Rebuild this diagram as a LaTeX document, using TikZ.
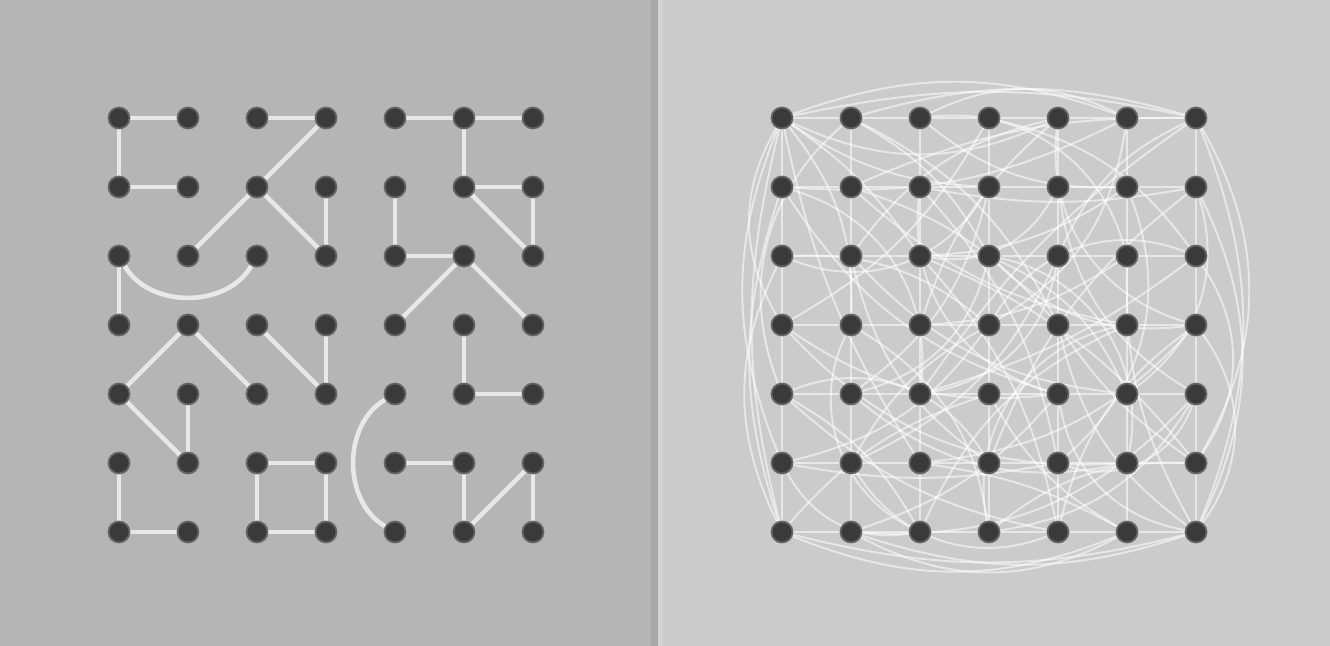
\documentclass[tikz,border=0pt]{standalone}
\usepackage{xcolor}
\usepackage{tikz}
\usetikzlibrary{positioning}
\definecolor{leftbg}{HTML}{B5B5B5}
\definecolor{rightbg}{HTML}{CBCBCB}
\definecolor{seamdark}{HTML}{A8A8A8}
\definecolor{seamlight}{HTML}{D3D3D3}
\definecolor{dotgrey}{HTML}{3A3A3A}
\definecolor{dotrim}{HTML}{646464}
\definecolor{linewhite}{HTML}{E8E8E8}
\pgfdeclarelayer{panel}
\pgfdeclarelayer{edges}
\pgfsetlayers{panel,edges,main}
\tikzstyle{vertex} = [circle, minimum size=0.42cm, inner sep=0pt, fill=dotgrey, draw=dotrim, line width=1pt]
\tikzstyle{link} = [draw=linewhite, line width=2.6pt]
\tikzstyle{strand} = [draw=white, line width=1.1pt, opacity=0.55]

\begin{document}
\begin{tikzpicture}[x=0.02cm, y=0.02cm]

\useasboundingbox (0,0) rectangle (1330,646);

% the two grids of dots
\foreach \i in {0,...,6}
  \foreach \j in {0,...,6} {
    \node (l-\i-\j) [vertex] at (119+69*\i, 528-69*\j) {};
    \node (r-\i-\j) [vertex] at (782+69*\i, 528-69*\j) {};
  }

\begin{pgfonlayer}{panel}
\fill [leftbg] (0,0) rectangle (655,646);
\fill [seamdark] (651,0) rectangle (658,646);
\fill [seamlight] (658,0) rectangle (663,646);
\fill [rightbg] (663,0) rectangle (1330,646);
\end{pgfonlayer}

\begin{pgfonlayer}{edges}
% left: sparse graph
\foreach \a/\b/\c/\d in {0/0/1/0, 2/0/3/0, 4/0/5/0, 5/0/6/0, 0/0/0/1, 0/1/1/1,
    3/0/2/1, 2/1/1/2, 2/1/3/2, 3/1/3/2, 5/0/5/1, 5/1/6/1, 5/1/6/2, 6/1/6/2,
    4/1/4/2, 4/2/5/2, 5/2/4/3, 5/2/6/3, 0/2/0/3, 1/3/0/4, 1/3/2/4, 2/3/3/4,
    3/3/3/4, 0/4/1/5, 1/4/1/5, 5/3/5/4, 5/4/6/4, 0/5/0/6, 0/6/1/6, 2/5/3/5,
    2/5/2/6, 3/5/3/6, 2/6/3/6, 4/5/5/5, 5/5/5/6, 6/5/5/6, 6/5/6/6}
  \draw [link] (l-\a-\b) -- (l-\c-\d);
\draw [link] (l-0-2) to[bend right=60] (l-2-2);
\draw [link] (l-4-4) to[bend right=60] (l-4-6);

% right: dense graph
\foreach \i [evaluate=\i as \n using int(\i+1)] in {0,...,5}
  \foreach \j in {0,...,6} {
    \draw [strand] (r-\i-\j) -- (r-\n-\j);
    \draw [strand] (r-\j-\i) -- (r-\j-\n);
  }
\foreach \a/\b/\c/\d/\e in {0/0/2/2/10, 0/0/3/1/-15, 0/0/1/3/20, 0/0/4/0/-25,
    1/0/3/2/15, 2/0/5/1/-20, 3/0/6/2/20, 4/0/2/3/-15, 5/0/3/3/25, 6/0/4/2/-20,
    1/1/4/3/15, 2/1/6/1/-10, 3/1/1/4/20, 4/1/6/4/-25, 5/1/2/2/15, 6/1/3/5/-15,
    0/2/3/3/20, 1/2/5/4/-20, 2/2/4/6/15, 3/2/6/3/-25, 4/2/1/5/20, 5/2/6/6/-15,
    6/2/2/4/10, 0/3/4/4/-20, 1/3/3/6/25, 2/3/5/2/-15, 3/3/0/5/20, 4/3/6/5/-10,
    5/3/1/1/15, 6/3/4/6/-20, 0/4/2/6/15, 1/4/5/5/-25, 2/4/6/0/10, 3/4/5/6/-15,
    4/4/0/1/20, 5/4/3/2/-20, 6/4/1/6/25, 0/5/4/5/-10, 1/5/3/3/15, 2/5/6/3/-20,
    3/5/1/2/20, 4/5/2/1/-15, 5/5/0/3/25, 6/5/3/6/-20, 0/6/3/4/15, 1/6/4/4/-15,
    2/6/5/3/20, 3/6/6/4/-25, 4/6/0/4/15, 5/6/2/5/-10, 6/6/4/3/20, 0/1/5/0/-15,
    1/2/4/0/20, 3/0/0/3/15, 0/0/2/5/-10, 1/1/6/0/12, 4/3/1/0/-18, 2/2/6/5/14,
    0/1/2/4/40, 1/0/0/4/-35, 2/1/4/4/-40, 3/2/5/5/45, 4/0/6/3/-40, 5/1/4/5/35,
    1/3/2/6/-45, 0/4/3/5/40, 2/4/4/2/-35, 3/3/6/2/40, 5/3/3/6/-45, 6/1/5/4/35,
    1/5/4/6/-40, 2/6/0/5/35, 4/4/6/6/-35, 3/1/0/2/40, 5/2/2/0/-40, 6/4/4/5/45,
    1/4/3/2/-30, 4/1/2/2/35}
  \draw [strand] (r-\a-\b) to[bend left=\e] (r-\c-\d);
% loops round the outside
\foreach \a/\b/\e in {0/6/14, 1/6/18, 0/5/22, 2/6/26, 0/3/30}
  \draw [strand] (r-0-\a) to[bend right=\e] (r-0-\b);
\foreach \a/\b/\e in {0/6/12, 1/6/16, 0/5/20, 2/5/26}
  \draw [strand] (r-\a-0) to[bend left=\e] (r-\b-0);
\foreach \a/\b/\e in {0/6/22, 1/6/26, 0/5/30, 2/5/34, 3/6/36}
  \draw [strand] (r-6-\a) to[bend left=\e] (r-6-\b);
\foreach \a/\b/\e in {0/6/14, 1/6/18, 0/5/22, 1/5/28}
  \draw [strand] (r-\a-6) to[bend right=\e] (r-\b-6);
\end{pgfonlayer}

\end{tikzpicture}
\end{document}
